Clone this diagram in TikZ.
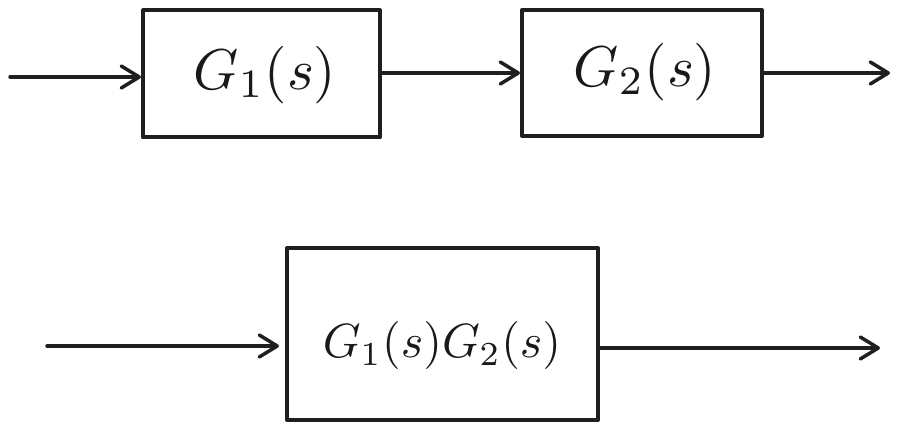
\documentclass[tikz,border=0pt]{standalone}
\usetikzlibrary{arrows.meta}
\begin{document}
\begin{tikzpicture}[x=1pt,y=-1pt,
  blk/.style={draw=black!88,line width=4pt,rectangle,inner sep=0pt,line join=round},
  lbl/.style={inner sep=0pt,text=black!90},
  conn/.style={draw=black!88,line width=3.5pt,line cap=round,
    -{Straight Barb[length=18pt,width=22pt,line cap=round,line join=round]}}]
\useasboundingbox (0,0) rectangle (900,430);
% top row
\node[blk,minimum width=237pt,minimum height=127pt] (g1) at (261.5,74) {};
\node[blk,minimum width=240pt,minimum height=126pt] (g2) at (642,73) {};
\node[lbl,scale=5.75] (g1t) at (265,75) {$G_1(s)$};
\node[lbl,scale=5.75] (g2t) at (645,72) {$G_2(s)$};
\coordinate (in1) at (10,77);
\coordinate (out1) at (890,73);
\draw[conn] (in1) -- (g1.west |- in1);
\draw[conn] (g1.east |- 0,73) -- (g2.west |- 0,73);
\draw[conn] (g2.east |- out1) -- (out1);
% bottom row
\node[blk,minimum width=311pt,minimum height=172pt] (g12) at (442.5,334) {};
\node[lbl,scale=4.8] (g12t) at (442,346) {$G_1(s)G_2(s)$};
\coordinate (in2) at (47,346);
\coordinate (out2) at (880,348);
\draw[conn] (in2) -- ([xshift=-6pt]g12.west |- in2);
\draw[conn] (g12.east |- out2) -- (out2);
\end{tikzpicture}
\end{document}
